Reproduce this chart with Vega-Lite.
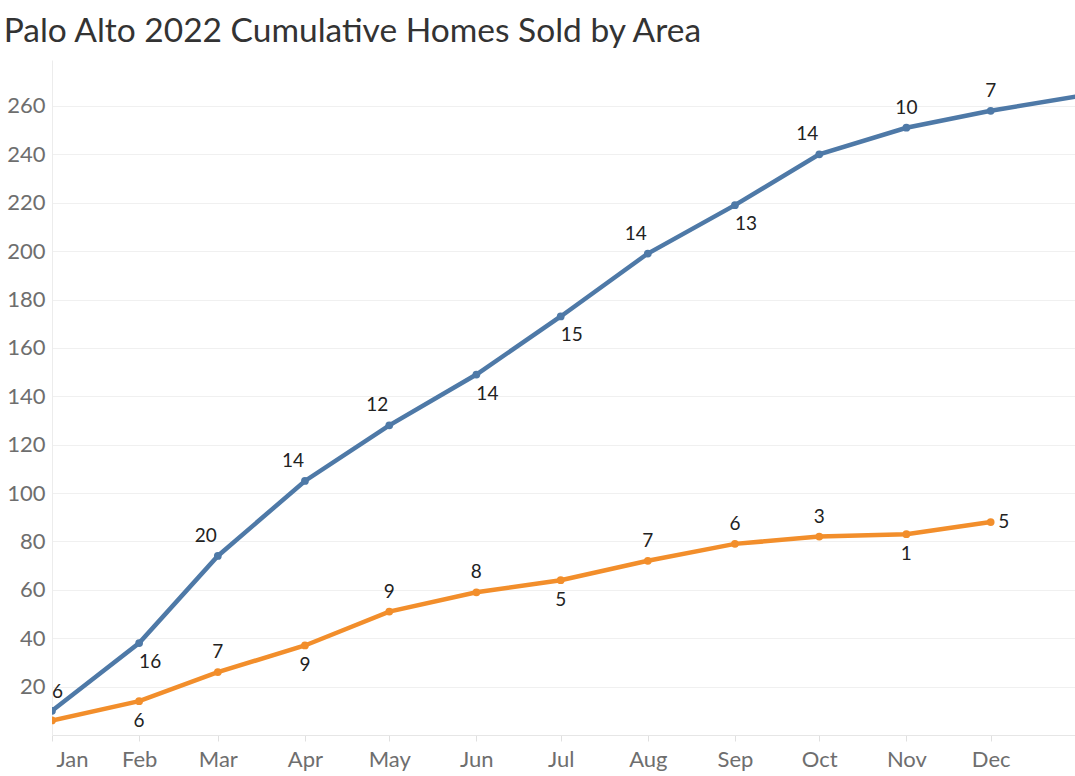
{
  "$schema": "https://vega.github.io/schema/vega-lite/v6.json",
  "autosize": "none",
  "padding": {"left": 52, "top": 60, "right": 0, "bottom": 41},
  "width": 1023,
  "height": 675,
  "background": "#FFFFFF",
  "config": {
    "view": {"stroke": "transparent"},
    "font": "Lato"
  },
  "title": {
    "text": "Palo Alto 2022 Cumulative Homes Sold by Area",
    "anchor": "start",
    "font": "Lato",
    "fontSize": 33.5,
    "fontWeight": "normal",
    "color": "#333333",
    "dx": -3,
    "offset": 11
  },
  "data": {
    "values": [
      {"area": "A", "month": "Jan", "date": "2022-01-01", "homes": 10, "sold": 6},
      {"area": "A", "month": "Feb", "date": "2022-02-01", "homes": 38, "sold": 16},
      {"area": "A", "month": "Mar", "date": "2022-03-01", "homes": 74, "sold": 20},
      {"area": "A", "month": "Apr", "date": "2022-04-01", "homes": 105, "sold": 14},
      {"area": "A", "month": "May", "date": "2022-05-01", "homes": 128, "sold": 12},
      {"area": "A", "month": "Jun", "date": "2022-06-01", "homes": 149, "sold": 14},
      {"area": "A", "month": "Jul", "date": "2022-07-01", "homes": 173, "sold": 15},
      {"area": "A", "month": "Aug", "date": "2022-08-01", "homes": 199, "sold": 14},
      {"area": "A", "month": "Sep", "date": "2022-09-01", "homes": 219, "sold": 13},
      {"area": "A", "month": "Oct", "date": "2022-10-01", "homes": 240, "sold": 14},
      {"area": "A", "month": "Nov", "date": "2022-11-01", "homes": 251, "sold": 10},
      {"area": "A", "month": "Dec", "date": "2022-12-01", "homes": 258, "sold": 7},
      {"area": "A", "month": "Jan23", "date": "2023-01-01", "homes": 264, "sold": null},
      {"area": "B", "month": "Jan", "date": "2022-01-01", "homes": 6, "sold": null},
      {"area": "B", "month": "Feb", "date": "2022-02-01", "homes": 14, "sold": 6},
      {"area": "B", "month": "Mar", "date": "2022-03-01", "homes": 26, "sold": 7},
      {"area": "B", "month": "Apr", "date": "2022-04-01", "homes": 37, "sold": 9},
      {"area": "B", "month": "May", "date": "2022-05-01", "homes": 51, "sold": 9},
      {"area": "B", "month": "Jun", "date": "2022-06-01", "homes": 59, "sold": 8},
      {"area": "B", "month": "Jul", "date": "2022-07-01", "homes": 64, "sold": 5},
      {"area": "B", "month": "Aug", "date": "2022-08-01", "homes": 72, "sold": 7},
      {"area": "B", "month": "Sep", "date": "2022-09-01", "homes": 79, "sold": 6},
      {"area": "B", "month": "Oct", "date": "2022-10-01", "homes": 82, "sold": 3},
      {"area": "B", "month": "Nov", "date": "2022-11-01", "homes": 83, "sold": 1},
      {"area": "B", "month": "Dec", "date": "2022-12-01", "homes": 88, "sold": 5}
    ]
  },
  "encoding": {
    "x": {
      "field": "date",
      "type": "temporal",
      "scale": {
        "type": "utc",
        "domain": [
          {"year": 2022, "month": 1, "date": 1, "utc": true},
          {"year": 2022, "month": 12, "date": 31, "utc": true}
        ]
      },
      "axis": {
        "title": null,
        "grid": false,
        "format": "%b",
        "tickCount": "month",
        "domainColor": "#e6e6e6",
        "tickColor": "#e0e0e0",
        "tickSize": 6,
        "labelColor": "#6e6e6e",
        "labelFontSize": 22,
        "labelPadding": 8,
        "labelFlush": 1,
        "labelFlushOffset": -4
      }
    },
    "y": {
      "field": "homes",
      "type": "quantitative",
      "scale": {"domain": [0, 279], "nice": false},
      "axis": {
        "title": null,
        "values": [20, 40, 60, 80, 100, 120, 140, 160, 180, 200, 220, 240, 260],
        "gridColor": "#f0f0f0",
        "domainColor": "#ececec",
        "ticks": false,
        "labelColor": "#6e6e6e",
        "labelFontSize": 22,
        "labelPadding": 7
      }
    },
    "color": {
      "field": "area",
      "type": "nominal",
      "scale": {"domain": ["A", "B"], "range": ["#4e79a7", "#f28e2b"]},
      "legend": null
    }
  },
  "layer": [
    {
      "mark": {"type": "line", "strokeWidth": 4.5, "clip": true}
    },
    {
      "transform": [{"filter": "datum.month != 'Jan23'"}],
      "mark": {"type": "point", "filled": true, "opacity": 1, "size": 60, "clip": true}
    },
    {
      "transform": [{"filter": "datum.area == 'A' && datum.month == 'Jan'"}],
      "mark": {"type": "text", "fontSize": 19, "align": "left", "baseline": "middle", "dx": 0, "dy": -19},
      "encoding": {"text": {"field": "sold"}, "color": {"value": "#222222"}}
    },
    {
      "transform": [{"filter": "datum.area == 'A' && indexof(['Nov','Dec'], datum.month) >= 0"}],
      "mark": {"type": "text", "fontSize": 19, "align": "center", "baseline": "middle", "dx": 0, "dy": -20},
      "encoding": {"text": {"field": "sold"}, "color": {"value": "#222222"}}
    },
    {
      "transform": [{"filter": "datum.area == 'A' && indexof(['Mar','Apr','May','Aug','Oct'], datum.month) >= 0"}],
      "mark": {"type": "text", "fontSize": 19, "align": "center", "baseline": "middle", "dx": -12, "dy": -20},
      "encoding": {"text": {"field": "sold"}, "color": {"value": "#222222"}}
    },
    {
      "transform": [{"filter": "datum.area == 'A' && indexof(['Feb','Jun','Jul','Sep'], datum.month) >= 0"}],
      "mark": {"type": "text", "fontSize": 19, "align": "center", "baseline": "middle", "dx": 11, "dy": 19},
      "encoding": {"text": {"field": "sold"}, "color": {"value": "#222222"}}
    },
    {
      "transform": [{"filter": "datum.area == 'B' && indexof(['Mar','May','Jun','Aug','Sep','Oct'], datum.month) >= 0"}],
      "mark": {"type": "text", "fontSize": 19, "align": "center", "baseline": "middle", "dx": 0, "dy": -20},
      "encoding": {"text": {"field": "sold"}, "color": {"value": "#222222"}}
    },
    {
      "transform": [{"filter": "datum.area == 'B' && indexof(['Feb','Apr','Jul','Nov'], datum.month) >= 0"}],
      "mark": {"type": "text", "fontSize": 19, "align": "center", "baseline": "middle", "dx": 0, "dy": 20},
      "encoding": {"text": {"field": "sold"}, "color": {"value": "#222222"}}
    },
    {
      "transform": [{"filter": "datum.area == 'B' && datum.month == 'Dec'"}],
      "mark": {"type": "text", "fontSize": 19, "align": "center", "baseline": "middle", "dx": 13, "dy": 0},
      "encoding": {"text": {"field": "sold"}, "color": {"value": "#222222"}}
    }
  ]
}
